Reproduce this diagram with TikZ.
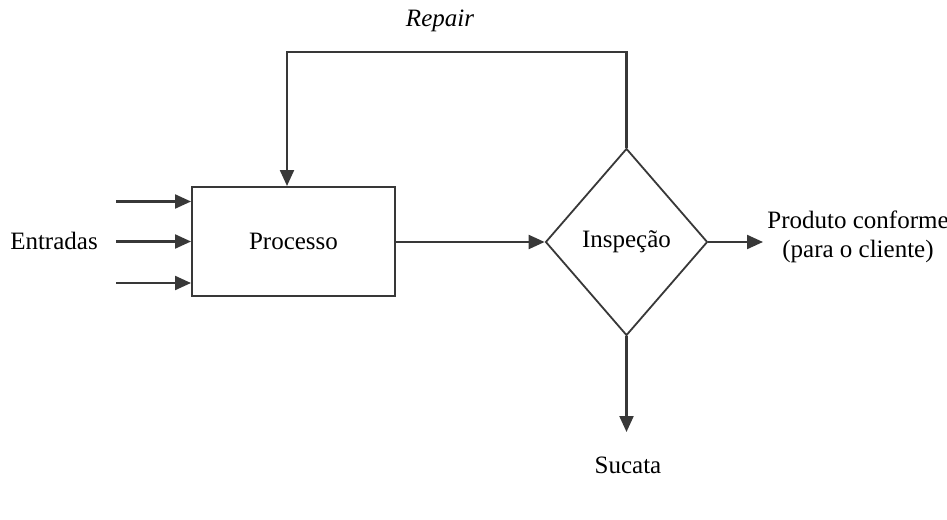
\documentclass[tikz,border=0pt]{standalone}
\usepackage{fontspec}
\setmainfont{Liberation Serif}
\usetikzlibrary{arrows.meta,shapes.geometric}
\begin{document}
\begin{tikzpicture}[x=1pt,y=-1pt,
  line/.style={draw=black!78, line width=2.2pt},
  flow/.style={line, -{Triangle[length=16pt,width=14pt]}},
  lbl/.style={font=\fontsize{25}{29}\selectfont, inner sep=0pt, align=center},
  box/.style={line, line width=2pt, fill=white, minimum width=203pt, minimum height=109pt, inner sep=0pt},
  decision/.style={line, line width=1.8pt, diamond, fill=white, minimum width=162pt, minimum height=187pt, inner sep=0pt}]
\useasboundingbox (0,0) rectangle (947,519);

% process block and inspection decision
\node[box] (proc) at (293.5,241.5) {};
\node[lbl] (proctxt) at (293.5,241.5) {Processo};
\node[decision] (insp) at (626.5,242) {};
\node[lbl] (insptxt) at (626.5,242) {Inspeção};

% inputs
\node[lbl] (in) at (54,241) {Entradas};
\coordinate (i1) at (116,201.5);
\coordinate (i2) at (116,241.5);
\coordinate (i3) at (116,283);
\draw[flow] (i1) -- (i1 -| proc.west);
\draw[flow] (i2) -- (i2 -| proc.west);
\draw[flow] (i3) -- (i3 -| proc.west);

% main flow
\draw[flow] (proc.east |- insp.west) -- (insp.west);

% repair loop
\coordinate (rtop) at (626.5,52);
\coordinate (rleft) at (287,52);
\node[lbl, font=\fontsize{25}{29}\selectfont\itshape] (rep) at (440,21) {Repair};
\draw[flow] (insp.north) -- (rtop) -- (rleft) -- (rleft |- proc.north);

% outputs
\node[lbl] (ok) at (858,236.5) {Produto conforme\\(para o cliente)};
\coordinate (okend) at (763,242);
\draw[flow] (insp.east) -- (okend);
\node[lbl] (scrap) at (628,465) {Sucata};
\coordinate (scrapend) at (626.5,432);
\draw[flow] (insp.south) -- (scrapend);
\end{tikzpicture}
\end{document}
